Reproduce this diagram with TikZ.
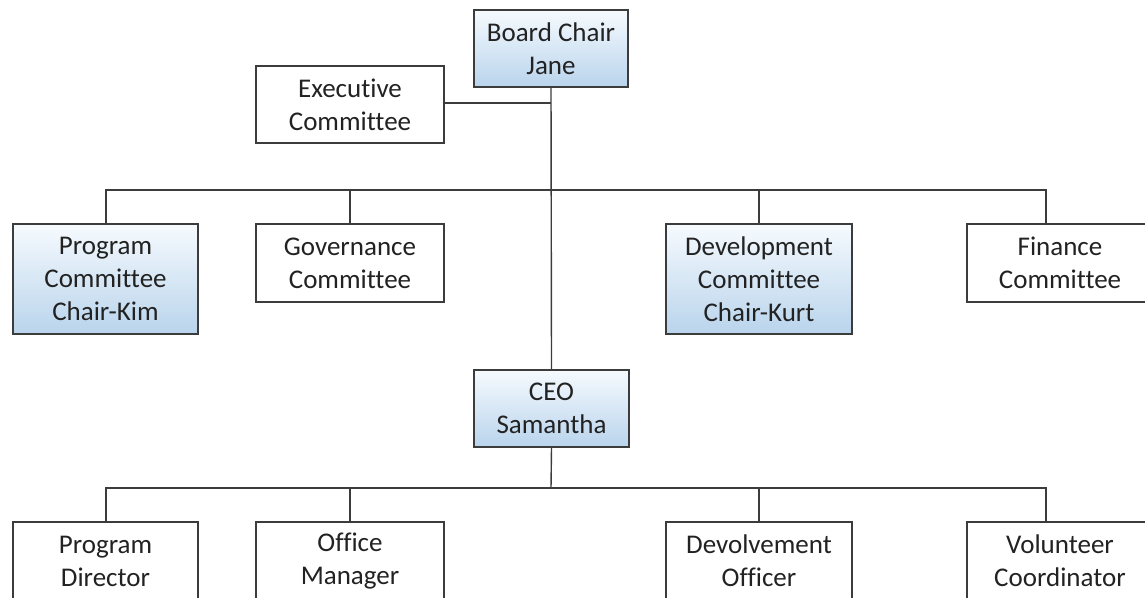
\documentclass[tikz,border=0pt]{standalone}
\usepackage{fontspec}
\setmainfont{Carlito}[Ligatures={NoCommon}]
\definecolor{edge}{HTML}{3C3C3C}
\definecolor{ink}{HTML}{222222}
\definecolor{shadeTop}{HTML}{F6FAFE}
\definecolor{shadeBot}{HTML}{B9D4EC}
\begin{document}
\begin{tikzpicture}[x=1pt,y=-1pt,
  box/.style={draw=edge, line width=1.6pt, fill=white, inner sep=0pt,
    align=center, text=ink, font=\fontsize{27}{33}\selectfont},
  hilite/.style={box, top color=shadeTop, bottom color=shadeBot},
  wire/.style={draw=edge, line width=1.4pt}]
\useasboundingbox (0,0) rectangle (1145,597);
\clip (0,0) rectangle (1145,597);

% board level
\node[hilite, minimum width=154pt, minimum height=77pt] (board) at (551,48.5) {Board Chair\\Jane};
\node[box, minimum width=188pt, minimum height=77pt] (exec) at (350,104.5) {Executive\\Committee};

% committees
\node[hilite, minimum width=185pt, minimum height=110pt] (prog) at (105.5,279) {Program\\Committee\\Chair-Kim};
\node[box, minimum width=188pt, minimum height=78pt] (gov) at (350,263) {Governance\\Committee};
\node[hilite, minimum width=186pt, minimum height=110pt] (dev) at (759,279) {Development\\Committee\\Chair-Kurt};
\node[box, minimum width=186pt, minimum height=78pt] (fin) at (1060,263) {Finance\\Committee};

% chief executive
\node[hilite, minimum width=155pt, minimum height=77pt] (ceo) at (551.5,408.5) {CEO\\Samantha};

% staff
\node[box, minimum width=185pt, minimum height=78pt] (pd) at (105.5,561) {Program\\Director};
\node[box, minimum width=188pt, minimum height=78pt] (om) at (350,561) {Office\\Manager};
\node[box, minimum width=186pt, minimum height=78pt] (do) at (759,561) {Devolvement\\Officer};
\node[box, minimum width=186pt, minimum height=78pt] (vc) at (1060,561) {Volunteer\\Coordinator};

% bus junctions
\coordinate (ex) at (551,103);
\coordinate (bus1) at (551,190);
\coordinate (bus2) at (551,488);

\draw[wire] (board.south) -- (ceo.north);
\draw[wire] (exec.east |- ex) -- (ex);
\draw[wire] ([xshift=0.5pt]prog.north) |- (bus1);
\draw[wire] (gov.north) |- (bus1);
\draw[wire] (dev.north) |- (bus1);
\draw[wire] ([xshift=-14pt]fin.north) |- (bus1);
\draw[wire] (ceo.south) -- (bus2);
\draw[wire] ([xshift=0.5pt]pd.north) |- (bus2);
\draw[wire] (om.north) |- (bus2);
\draw[wire] (do.north) |- (bus2);
\draw[wire] ([xshift=-14pt]vc.north) |- (bus2);
\end{tikzpicture}
\end{document}
